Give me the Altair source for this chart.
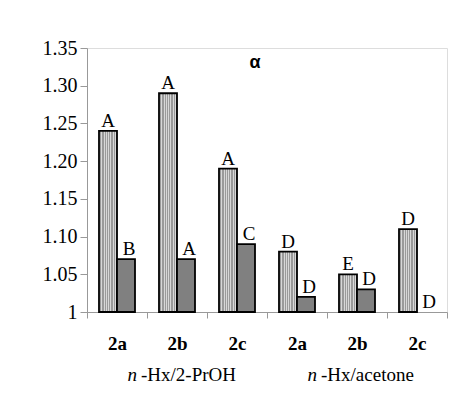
import altair as alt
import pandas as pd

cats = ["2a", "2b", "2c", "2a", "2b", "2c"]
groups = ["P", "P", "P", "A", "A", "A"]
hatched = [1.24, 1.29, 1.19, 1.08, 1.05, 1.11]
solid = [1.07, 1.07, 1.09, 1.02, 1.03, 1.00]
hatched_letters = ["A", "A", "A", "D", "E", "D"]
solid_letters = ["B", "A", "C", "D", "D", "D"]
y_ticks = [1.0, 1.05, 1.10, 1.15, 1.20, 1.25, 1.30, 1.35]
group_mid = ["P|2b", "A|2b"]
group_rest = ["-Hx/2-PrOH", "-Hx/acetone"]

keys = [f"{g}|{c}" for g, c in zip(groups, cats)]
rows = []
for k, h, s, hl, sl in zip(keys, hatched, solid, hatched_letters, solid_letters):
    rows.append({"key": k, "series": "h", "value": h, "letter": hl})
    rows.append({"key": k, "series": "s", "value": s, "letter": sl})
df = pd.DataFrame(rows)
gdf = pd.DataFrame({"key": group_mid, "rest": group_rest, "n": ["n", "n"]})

SERIF = "Liberation Serif"
W, H = 360, 264

xscale = alt.Scale(domain=keys, paddingInner=0, paddingOuter=0)
xoff = alt.XOffset("series:N", scale=alt.Scale(domain=["h", "s"], paddingOuter=0.667, paddingInner=0))

xaxis = alt.Axis(
    title=None, labelExpr="split(datum.label, '|')[1]", labelAngle=0,
    tickBand="extent", tickSize=6, tickColor="#999999", domainColor="#999999",
    labelFont=SERIF, labelFontSize=19, labelFontWeight="bold", labelColor="black",
    labelPadding=16, grid=False,
)
yaxis = alt.Axis(
    title=None, values=y_ticks, labelExpr="datum.value == 1 ? '1' : format(datum.value, '.2f')",
    tickSize=7, tickColor="#999999", domainColor="#999999", labelFont=SERIF,
    labelFontSize=20, labelColor="black", labelPadding=3, grid=False, labelOverlap=False,
)
yscale = alt.Scale(domain=[1.0, 1.35], zero=False, nice=False)

stops = []
n = 8
for i in range(n):
    a = i / n
    b = a + (1 / n) * 0.5
    c = (i + 1) / n
    stops += [
        {"offset": a, "color": "#d8d8d8"},
        {"offset": b, "color": "#d8d8d8"},
        {"offset": b, "color": "#9a9a9a"},
        {"offset": c, "color": "#9a9a9a"},
    ]
hatch = alt.Gradient(gradient="linear", stops=stops, x1=0, x2=1, y1=0, y2=0)

base = alt.Chart(df)
xenc = alt.X("key:N", scale=xscale, axis=xaxis, sort=keys)
yenc = alt.Y("value:Q", scale=yscale, axis=yaxis)

bars_h = base.transform_filter("datum.series == 'h'").mark_bar(
    stroke="black", strokeWidth=1.8, color=hatch
).encode(x=xenc, xOffset=xoff, y=yenc, y2=alt.datum(1.0))

bars_s = base.transform_filter("datum.series == 's'").mark_bar(
    stroke="black", strokeWidth=1.8, color="#808080"
).encode(
    x=xenc, xOffset=xoff, y=yenc, y2=alt.datum(1.0),
    strokeOpacity=alt.condition("datum.value <= 1", alt.value(0), alt.value(1)),
)

txt_h = base.transform_filter("datum.series == 'h'").mark_text(
    font=SERIF, fontSize=19, baseline="alphabetic", dy=-4, color="black"
).encode(x=xenc, xOffset=xoff, y=yenc, text="letter:N")

txt_s = base.transform_filter("datum.series == 's'").mark_text(
    font=SERIF, fontSize=19, baseline="alphabetic", dy=-4, dx=3, color="black"
).encode(x=xenc, xOffset=xoff, y=yenc, text="letter:N")

g_n = alt.Chart(gdf).mark_text(
    font=SERIF, fontSize=19, fontStyle="italic", align="right", baseline="middle", dx=-40, color="black"
).encode(x=alt.X("key:N", scale=xscale, axis=xaxis), y=alt.value(H + 63), text="n:N")

g_rest = alt.Chart(gdf).mark_text(
    font=SERIF, fontSize=19, align="left", baseline="middle", dx=-36, color="black"
).encode(x=alt.X("key:N", scale=xscale, axis=xaxis), y=alt.value(H + 63), text="rest:N")

chart = alt.layer(bars_h, bars_s, txt_h, txt_s, g_n, g_rest).properties(
    width=W, height=H,
    title=alt.TitleParams("α", font="Liberation Sans", fontSize=18, fontWeight="bold",
                          anchor="middle", dx=-12, offset=-43, baseline="middle", color="black"),
    autosize=alt.AutoSizeParams(type="none"),
    padding={"left": 79, "top": 40, "right": 19, "bottom": 77},
).configure_view(stroke=None).configure(background="white")

chart.save("out.html", embed_options={"renderer": "svg", "actions": False})
